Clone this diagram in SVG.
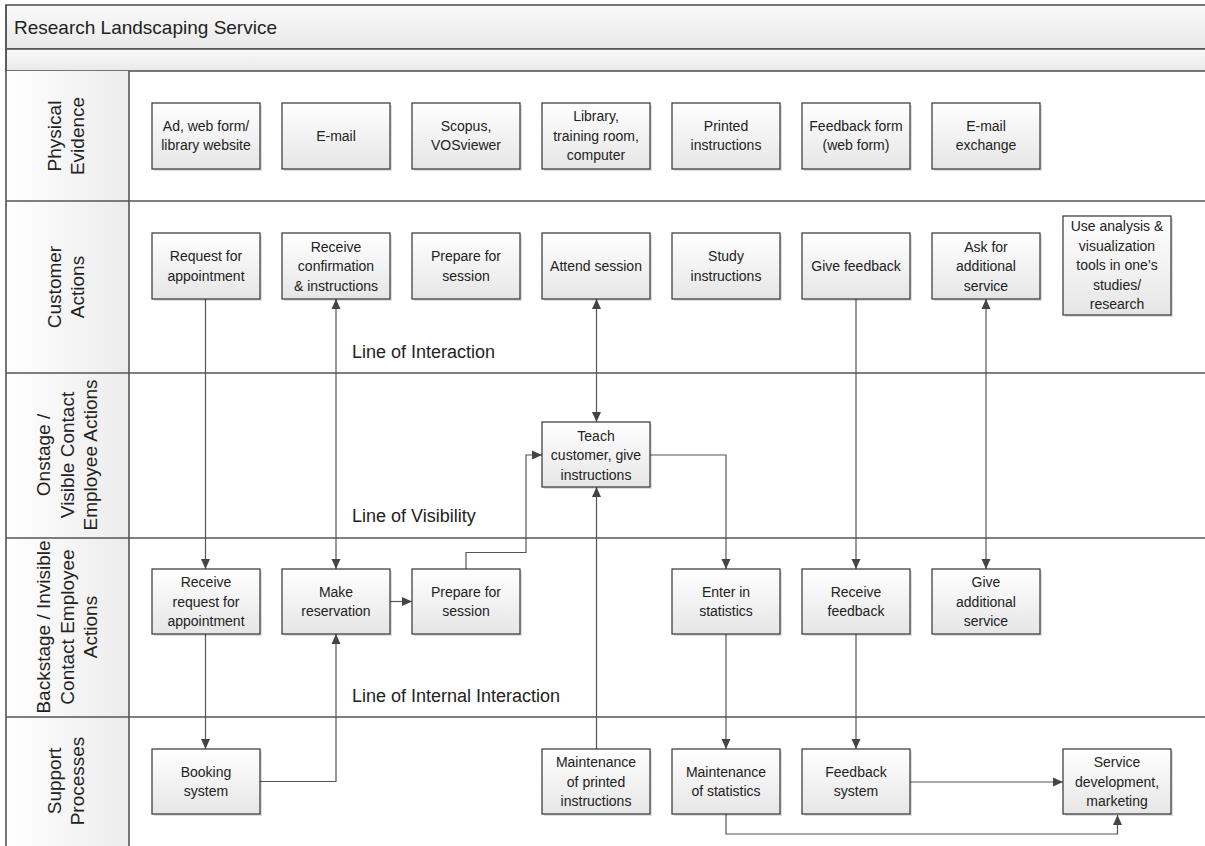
<svg xmlns="http://www.w3.org/2000/svg" width="1205" height="846" viewBox="0 0 1205 846">
<style>
.bx{fill:url(#gb);stroke:#333;stroke-width:1.2}
.sh{fill:#000;opacity:0.13}
.t{font-family:"Liberation Sans",Arial,sans-serif;font-size:14px;fill:#222;text-anchor:middle}
.ll{font-family:"Liberation Sans",Arial,sans-serif;font-size:18px;fill:#222}
.lane{font-family:"Liberation Sans",Arial,sans-serif;font-size:19px;fill:#222;text-anchor:middle}
.sep{stroke:#555;stroke-width:1.6;fill:none}
.c{stroke:#555;stroke-width:1.2;fill:none;marker-end:url(#ah)}
.c2{stroke:#555;stroke-width:1.2;fill:none;marker-end:url(#ah);marker-start:url(#ah)}
</style>
<defs>
<linearGradient id="gb" x1="0" y1="0" x2="0" y2="1"><stop offset="0" stop-color="#ffffff"/><stop offset="1" stop-color="#e6e6e6"/></linearGradient>
<linearGradient id="gh" x1="0" y1="0" x2="0" y2="1"><stop offset="0" stop-color="#fafafa"/><stop offset="1" stop-color="#e9e9e9"/></linearGradient>
<linearGradient id="gl" x1="0" y1="0" x2="1" y2="0"><stop offset="0" stop-color="#ffffff"/><stop offset="1" stop-color="#ececec"/></linearGradient>
<marker id="ah" markerUnits="userSpaceOnUse" markerWidth="10" markerHeight="10" refX="10" refY="5" orient="auto-start-reverse"><path d="M0,0.5 L10,5 L0,9.5 z" fill="#444"/></marker>
</defs>
<rect x="0" y="0" width="1205" height="846" fill="#fff"/>
<g id="frame">
<rect x="6" y="5" width="1205" height="44" fill="url(#gh)" stroke="#555" stroke-width="1.6"/>
<rect x="6" y="49" width="1205" height="22" fill="url(#gh)" stroke="#555" stroke-width="1.6"/>
<rect x="6" y="71" width="123" height="780" fill="url(#gl)"/>
<line class="sep" x1="6" y1="5" x2="6" y2="846"/>
<line class="sep" x1="129" y1="71" x2="129" y2="846"/>
<line class="sep" x1="6" y1="201" x2="1205" y2="201"/>
<line class="sep" x1="6" y1="373" x2="1205" y2="373"/>
<line class="sep" x1="6" y1="538" x2="1205" y2="538"/>
<line class="sep" x1="6" y1="717" x2="1205" y2="717"/>
<text x="14" y="34" class="ll" style="font-size:19px">Research Landscaping Service</text>
</g>
<g id="lanes">
<text class="lane" transform="translate(61,136) rotate(-90)">Physical</text>
<text class="lane" transform="translate(84,136) rotate(-90)">Evidence</text>
<text class="lane" transform="translate(61,287) rotate(-90)">Customer</text>
<text class="lane" transform="translate(84,287) rotate(-90)">Actions</text>
<text class="lane" transform="translate(50,455) rotate(-90)">Onstage /</text>
<text class="lane" transform="translate(74,455) rotate(-90)">Visible Contact</text>
<text class="lane" transform="translate(97,455) rotate(-90)">Employee Actions</text>
<text class="lane" transform="translate(50,627) rotate(-90)">Backstage / Invisible</text>
<text class="lane" transform="translate(74,627) rotate(-90)">Contact Employee</text>
<text class="lane" transform="translate(97,627) rotate(-90)">Actions</text>
<text class="lane" transform="translate(61,781) rotate(-90)">Support</text>
<text class="lane" transform="translate(84,781) rotate(-90)">Processes</text>
</g>
<g id="linelabels">
<text class="ll" x="352" y="358">Line of Interaction</text>
<text class="ll" x="352" y="522">Line of Visibility</text>
<text class="ll" x="352" y="702">Line of Internal Interaction</text>
</g>
<g id="connectors">
<path class="c" d="M205.5,299 V569"/>
<path class="c2" d="M336,299 V569"/>
<path class="c2" d="M596.5,299 V422"/>
<path class="c" d="M856,299 V569"/>
<path class="c2" d="M986,299 V569"/>
<path class="c" d="M205.5,634 V749"/>
<path class="c" d="M259,781.5 H336 V634"/>
<path class="c" d="M390,601.5 H412"/>
<path class="c" d="M466,569 V552.5 H526 V455 H542"/>
<path class="c" d="M650,455 H726 V569"/>
<path class="c" d="M596.5,749 V487"/>
<path class="c" d="M726,634 V749"/>
<path class="c" d="M856,634 V749"/>
<path class="c" d="M910,782 H1063"/>
<path class="c" d="M726,814 V834 H1117.5 V815"/>
</g>
<g id="pe1"><rect class="sh" x="154" y="105" width="108" height="66"/><rect class="bx" x="152" y="103" width="108" height="66"/><text class="t" x="206" y="131">Ad, web form/</text><text class="t" x="206" y="150">library website</text></g>
<g id="pe2"><rect class="sh" x="284" y="105" width="108" height="66"/><rect class="bx" x="282" y="103" width="108" height="66"/><text class="t" x="336" y="141">E-mail</text></g>
<g id="pe3"><rect class="sh" x="414" y="105" width="108" height="66"/><rect class="bx" x="412" y="103" width="108" height="66"/><text class="t" x="466" y="131">Scopus,</text><text class="t" x="466" y="150">VOSviewer</text></g>
<g id="pe4"><rect class="sh" x="544" y="105" width="108" height="66"/><rect class="bx" x="542" y="103" width="108" height="66"/><text class="t" x="596" y="121">Library,</text><text class="t" x="596" y="141">training room,</text><text class="t" x="596" y="160">computer</text></g>
<g id="pe5"><rect class="sh" x="674" y="105" width="108" height="66"/><rect class="bx" x="672" y="103" width="108" height="66"/><text class="t" x="726" y="131">Printed</text><text class="t" x="726" y="150">instructions</text></g>
<g id="pe6"><rect class="sh" x="804" y="105" width="108" height="66"/><rect class="bx" x="802" y="103" width="108" height="66"/><text class="t" x="856" y="131">Feedback form</text><text class="t" x="856" y="150">(web form)</text></g>
<g id="pe7"><rect class="sh" x="934" y="105" width="108" height="66"/><rect class="bx" x="932" y="103" width="108" height="66"/><text class="t" x="986" y="131">E-mail</text><text class="t" x="986" y="150">exchange</text></g>
<g id="ca1"><rect class="sh" x="154" y="235" width="108" height="66"/><rect class="bx" x="152" y="233" width="108" height="66"/><text class="t" x="206" y="261">Request for</text><text class="t" x="206" y="281">appointment</text></g>
<g id="ca2"><rect class="sh" x="284" y="235" width="108" height="66"/><rect class="bx" x="282" y="233" width="108" height="66"/><text class="t" x="336" y="252">Receive</text><text class="t" x="336" y="271">confirmation</text><text class="t" x="336" y="291">&amp; instructions</text></g>
<g id="ca3"><rect class="sh" x="414" y="235" width="108" height="66"/><rect class="bx" x="412" y="233" width="108" height="66"/><text class="t" x="466" y="261">Prepare for</text><text class="t" x="466" y="281">session</text></g>
<g id="ca4"><rect class="sh" x="544" y="235" width="108" height="66"/><rect class="bx" x="542" y="233" width="108" height="66"/><text class="t" x="596" y="271">Attend session</text></g>
<g id="ca5"><rect class="sh" x="674" y="235" width="108" height="66"/><rect class="bx" x="672" y="233" width="108" height="66"/><text class="t" x="726" y="261">Study</text><text class="t" x="726" y="281">instructions</text></g>
<g id="ca6"><rect class="sh" x="804" y="235" width="108" height="66"/><rect class="bx" x="802" y="233" width="108" height="66"/><text class="t" x="856" y="271">Give feedback</text></g>
<g id="ca7"><rect class="sh" x="934" y="235" width="108" height="66"/><rect class="bx" x="932" y="233" width="108" height="66"/><text class="t" x="986" y="252">Ask for</text><text class="t" x="986" y="271">additional</text><text class="t" x="986" y="291">service</text></g>
<g id="ca8"><rect class="sh" x="1065" y="218" width="108" height="99"/><rect class="bx" x="1063" y="216" width="108" height="99"/><text class="t" x="1117" y="231">Use analysis &amp;</text><text class="t" x="1117" y="251">visualization</text><text class="t" x="1117" y="270">tools in one’s</text><text class="t" x="1117" y="290">studies/</text><text class="t" x="1117" y="309">research</text></g>
<g id="on1"><rect class="sh" x="544" y="424" width="108" height="65"/><rect class="bx" x="542" y="422" width="108" height="65"/><text class="t" x="596" y="441">Teach</text><text class="t" x="596" y="460">customer, give</text><text class="t" x="596" y="480">instructions</text></g>
<g id="bs1"><rect class="sh" x="154" y="571" width="108" height="65"/><rect class="bx" x="152" y="569" width="108" height="65"/><text class="t" x="206" y="587">Receive</text><text class="t" x="206" y="607">request for</text><text class="t" x="206" y="626">appointment</text></g>
<g id="bs2"><rect class="sh" x="284" y="571" width="108" height="65"/><rect class="bx" x="282" y="569" width="108" height="65"/><text class="t" x="336" y="597">Make</text><text class="t" x="336" y="616">reservation</text></g>
<g id="bs3"><rect class="sh" x="414" y="571" width="108" height="65"/><rect class="bx" x="412" y="569" width="108" height="65"/><text class="t" x="466" y="597">Prepare for</text><text class="t" x="466" y="616">session</text></g>
<g id="bs5"><rect class="sh" x="674" y="571" width="108" height="65"/><rect class="bx" x="672" y="569" width="108" height="65"/><text class="t" x="726" y="597">Enter in</text><text class="t" x="726" y="616">statistics</text></g>
<g id="bs6"><rect class="sh" x="804" y="571" width="108" height="65"/><rect class="bx" x="802" y="569" width="108" height="65"/><text class="t" x="856" y="597">Receive</text><text class="t" x="856" y="616">feedback</text></g>
<g id="bs7"><rect class="sh" x="934" y="571" width="108" height="65"/><rect class="bx" x="932" y="569" width="108" height="65"/><text class="t" x="986" y="587">Give</text><text class="t" x="986" y="607">additional</text><text class="t" x="986" y="626">service</text></g>
<g id="sp1"><rect class="sh" x="154" y="751" width="108" height="65"/><rect class="bx" x="152" y="749" width="108" height="65"/><text class="t" x="206" y="777">Booking</text><text class="t" x="206" y="796">system</text></g>
<g id="sp4"><rect class="sh" x="544" y="751" width="108" height="65"/><rect class="bx" x="542" y="749" width="108" height="65"/><text class="t" x="596" y="767">Maintenance</text><text class="t" x="596" y="787">of printed</text><text class="t" x="596" y="806">instructions</text></g>
<g id="sp5"><rect class="sh" x="674" y="751" width="108" height="65"/><rect class="bx" x="672" y="749" width="108" height="65"/><text class="t" x="726" y="777">Maintenance</text><text class="t" x="726" y="796">of statistics</text></g>
<g id="sp6"><rect class="sh" x="804" y="751" width="108" height="65"/><rect class="bx" x="802" y="749" width="108" height="65"/><text class="t" x="856" y="777">Feedback</text><text class="t" x="856" y="796">system</text></g>
<g id="sp8"><rect class="sh" x="1065" y="751" width="108" height="65"/><rect class="bx" x="1063" y="749" width="108" height="65"/><text class="t" x="1117" y="767">Service</text><text class="t" x="1117" y="787">development,</text><text class="t" x="1117" y="806">marketing</text></g>
</svg>
